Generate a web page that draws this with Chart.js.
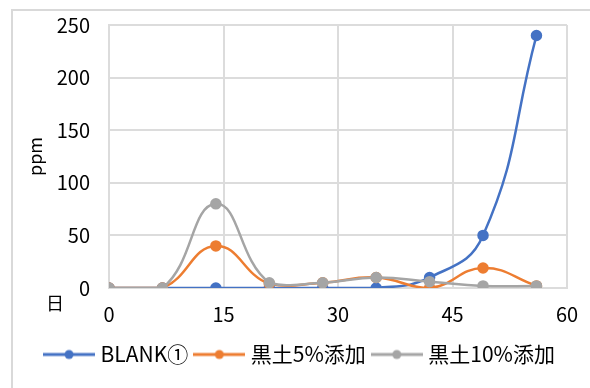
<!DOCTYPE html>
<html>
<head>
<meta charset="utf-8">
<script src="https://cdn.jsdelivr.net/npm/chart.js@4"></script>
<style>
  html, body { margin: 0; padding: 0; background: #fff; overflow: hidden; }
  #wrap { position: relative; width: 590px; height: 388px; }
  #frame { position: absolute; left: 11px; top: 9px; width: 600px; height: 400px; border: 2px solid #d9d9d9; box-sizing: border-box; }
  #chart { position: absolute; left: 0; top: 0; }
</style>
</head>
<body>
<div id="wrap">
  <div id="frame"></div>
  <canvas id="chart" width="590" height="388"></canvas>
</div>
<script>
const days = [0, 7, 14, 21, 28, 35, 42, 49, 56];
const blank = [0, 0, 0, 0, 0, 0, 10, 50, 240];
const kuro5 = [0, 0, 40, 4, 5, 10, 0, 19, 2];
const kuro10 = [0, 0, 80, 5, 5, 10, 6, 2, 2];
const seriesNames = ['BLANK①', '黒土5%添加', '黒土10%添加'];
const colors = ['#4472C4', '#ED7D31', '#A5A5A5'];

const FONT = '"Noto Sans CJK JP", "Noto Sans", sans-serif';

// legend icon: short line with a dot, like the Excel legend
function legendIcon(color) {
    const c = document.createElement('canvas');
    c.width = 52;
    c.height = 12;
    const g = c.getContext('2d');
    g.strokeStyle = color;
    g.lineWidth = 3;
    g.beginPath();
    g.moveTo(0, 6);
    g.lineTo(52, 6);
    g.stroke();
    g.fillStyle = color;
    g.beginPath();
    g.arc(26, 6, 4.5, 0, Math.PI * 2);
    g.fill();
    return c;
}

const dayLabel = {
    id: 'dayLabel',
    afterDraw(chart) {
        const ctx = chart.ctx;
        const area = chart.chartArea;
        ctx.save();
        ctx.font = '18px ' + FONT;
        ctx.fillStyle = '#000';
        ctx.textAlign = 'center';
        ctx.textBaseline = 'middle';
        ctx.fillText('日', area.left - 54, area.bottom + 15);
        ctx.restore();
    }
};

const toPoints = (vals) => vals.map((v, i) => ({ x: days[i], y: v }));

new Chart(document.getElementById('chart'), {
    type: 'line',
    data: {
        datasets: [blank, kuro5, kuro10].map((vals, i) => ({
            label: seriesNames[i],
            data: toPoints(vals),
            borderColor: colors[i],
            backgroundColor: colors[i],
            borderWidth: 2.5,
            pointRadius: 4.5,
            pointHoverRadius: 4.5,
            tension: 0.45,
            order: 3 - i
        }))
    },
    options: {
        responsive: false,
        animation: false,
        layout: { padding: { left: 36, right: 23, top: 25, bottom: 13 } },
        scales: {
            x: {
                type: 'linear',
                min: 0,
                max: 60,
                ticks: { stepSize: 15, color: '#000', padding: 14, font: { family: FONT, size: 20 } },
                grid: { color: '#dcdcdc', lineWidth: 2, drawTicks: false },
                border: { color: '#dcdcdc', width: 2 },
                afterFit(scale) {
                    scale.height = 46;
                    scale.paddingLeft = 0;
                    scale.paddingRight = 0;
                }
            },
            y: {
                min: 0,
                max: 250,
                ticks: { stepSize: 50, color: '#000', padding: 19, font: { family: FONT, size: 20 } },
                grid: { color: '#dcdcdc', lineWidth: 2, drawTicks: false },
                border: { color: '#dcdcdc', width: 2 },
                title: {
                    display: true,
                    text: 'ppm',
                    color: '#000',
                    font: { family: FONT, size: 18 },
                    padding: { top: -12, bottom: 0 }
                },
                afterFit(scale) {
                    scale.width = 73;
                    scale.paddingTop = 0;
                    scale.paddingBottom = 0;
                }
            }
        },
        plugins: {
            tooltip: { enabled: false },
            legend: {
                position: 'bottom',
                labels: {
                    color: '#000',
                    font: { family: FONT, size: 21 },
                    padding: 10,
                    usePointStyle: true,
                    pointStyleWidth: 42,
                    generateLabels(chart) {
                        const items = Chart.defaults.plugins.legend.labels.generateLabels(chart);
                        items.sort((a, b) => a.datasetIndex - b.datasetIndex);
                        items.forEach((it) => {
                            it.pointStyle = legendIcon(colors[it.datasetIndex]);
                        });
                        return items;
                    }
                }
            }
        }
    },
    plugins: [dayLabel]
});
</script>
</body>
</html>
